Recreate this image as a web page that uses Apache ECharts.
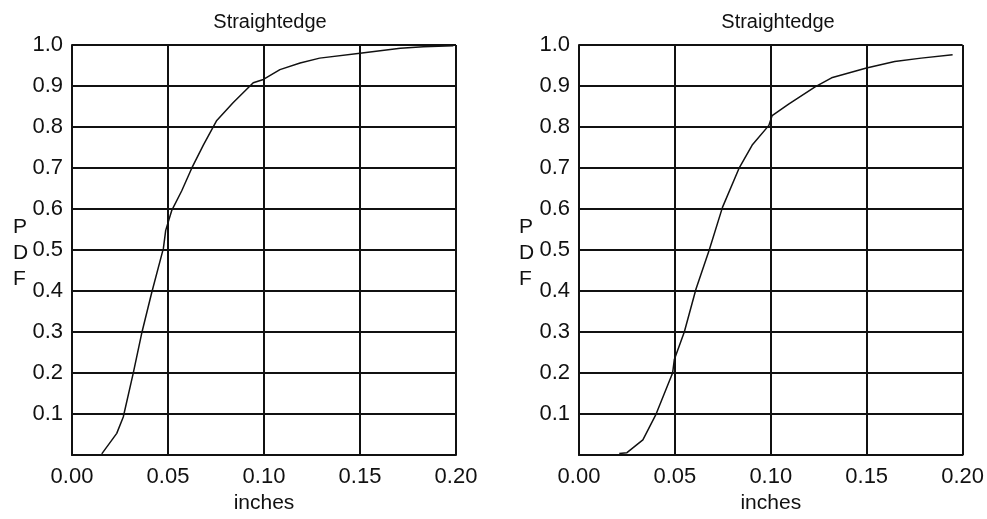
<!DOCTYPE html>
<html><head><meta charset="utf-8">
<script src="https://cdn.jsdelivr.net/npm/echarts@6/dist/echarts.min.js"></script>
<style>html,body{margin:0;padding:0;background:#fff}#c{width:987px;height:519px}</style>
</head><body><div id="c"></div>
<script>
const titles = ['Straightedge', 'Straightedge'];
const xName = 'inches';
const yName = 'P\nD\nF';
const leftX = [0.0155, 0.0233, 0.0267, 0.0319, 0.0363, 0.0415, 0.0476, 0.0488, 0.0519, 0.0571, 0.0623, 0.0684, 0.0754, 0.084, 0.0944, 0.0997, 0.1083, 0.1188, 0.129, 0.15, 0.171, 0.183, 0.1986];
const leftY = [0.003, 0.053, 0.093, 0.2, 0.297, 0.396, 0.504, 0.548, 0.596, 0.644, 0.699, 0.756, 0.816, 0.86, 0.908, 0.916, 0.94, 0.956, 0.968, 0.98, 0.992, 0.996, 0.998];
const rightX = [0.021, 0.025, 0.0333, 0.0402, 0.0488, 0.0497, 0.0549, 0.061, 0.0679, 0.0748, 0.0834, 0.0903, 0.099, 0.1007, 0.1093, 0.1231, 0.1317, 0.1499, 0.1646, 0.1784, 0.1948];
const rightY = [0.004, 0.006, 0.037, 0.1, 0.2, 0.233, 0.3, 0.405, 0.5, 0.604, 0.699, 0.756, 0.804, 0.828, 0.856, 0.898, 0.92, 0.944, 0.96, 0.968, 0.976];

const FONT = '"Liberation Sans", Arial, sans-serif';
const INK = '#111';
const chart = echarts.init(document.getElementById('c'));
const pair = (xs, ys) => xs.map((x, i) => [x, ys[i]]);
const line = { lineStyle: { color: INK, width: 2 } };
function xAxis(idx) {
  return {
    type: 'value', gridIndex: idx, min: 0, max: 0.2, interval: 0.05,
    name: xName, nameLocation: 'middle', nameGap: 35,
    nameTextStyle: { fontFamily: FONT, fontSize: 21, color: INK },
    axisLine: { show: true, onZero: false, lineStyle: { color: INK, width: 2 } },
    axisTick: { show: false },
    axisLabel: { margin: 11, fontFamily: FONT, fontSize: 22, color: INK, formatter: v => v.toFixed(2) },
    splitLine: { show: true, ...line }
  };
}
function yAxis(idx) {
  return {
    type: 'value', gridIndex: idx, min: 0, max: 1, interval: 0.1,
    axisLine: { show: true, onZero: false, lineStyle: { color: INK, width: 2 } },
    axisTick: { show: false },
    axisLabel: { margin: 9, fontFamily: FONT, fontSize: 22, color: INK,
      formatter: v => (v < 0.05 ? '' : v.toFixed(1)) },
    splitLine: { show: true, ...line }
  };
}
chart.setOption({
  animation: false,
  backgroundColor: '#fff',
  title: [
    { text: titles[0], left: 265, top: 7, textAlign: 'center',
      textStyle: { fontFamily: FONT, fontSize: 20, fontWeight: 'normal', color: INK } },
    { text: titles[1], left: 773, top: 7, textAlign: 'center',
      textStyle: { fontFamily: FONT, fontSize: 20, fontWeight: 'normal', color: INK } }
  ],
  graphic: [
    { type: 'text', left: 13, top: 214, style: { text: yName, font: '21px ' + FONT, fill: INK, lineHeight: 26 } },
    { type: 'text', left: 519, top: 214, style: { text: yName, font: '21px ' + FONT, fill: INK, lineHeight: 26 } }
  ],
  grid: [
    { left: 72, right: 531, top: 45, bottom: 57 },
    { left: 579, right: 22, top: 45, bottom: 57 }
  ],
  xAxis: [xAxis(0), xAxis(1)],
  yAxis: [yAxis(0), yAxis(1)],
  series: [
    { type: 'line', xAxisIndex: 0, yAxisIndex: 0, data: pair(leftX, leftY), showSymbol: false,
      lineStyle: { color: INK, width: 1.5 } },
    { type: 'line', xAxisIndex: 1, yAxisIndex: 1, data: pair(rightX, rightY), showSymbol: false,
      lineStyle: { color: INK, width: 1.5 } }
  ]
});
</script></body></html>
